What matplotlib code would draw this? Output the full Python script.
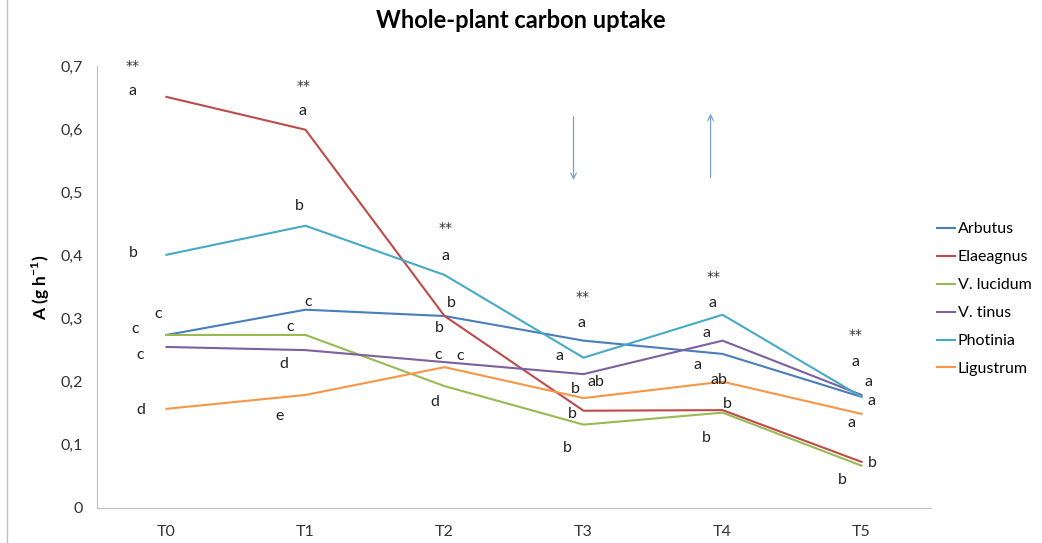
import matplotlib
matplotlib.use('Agg')
import matplotlib.pyplot as plt
from matplotlib.ticker import FuncFormatter
from matplotlib.patches import Rectangle

plt.rcParams['font.family'] = ['Lato', 'DejaVu Sans']

times = ['T0', 'T1', 'T2', 'T3', 'T4', 'T5']

arbutus = [0.274, 0.314, 0.304, 0.265, 0.244, 0.176]
elaeagnus = [0.651, 0.599, 0.304, 0.154, 0.155, 0.073]
v_lucidum = [0.274, 0.274, 0.193, 0.132, 0.151, 0.067]
v_tinus = [0.255, 0.250, 0.231, 0.212, 0.265, 0.179]
photinia = [0.401, 0.447, 0.369, 0.238, 0.306, 0.176]
ligustrum = [0.157, 0.179, 0.223, 0.174, 0.200, 0.149]

names = ['Arbutus', 'Elaeagnus', 'V. lucidum', 'V. tinus', 'Photinia', 'Ligustrum']
colors = ['#4A7EBB', '#BE4B48', '#98B954', '#7D60A0', '#46AAC5', '#F79646']

# significance letters (x, y, text)
letters = [
    (-0.245, 0.700, '**'), (-0.245, 0.661, 'a'), (-0.237, 0.404, 'b'), (-0.058, 0.307, 'c'),
    (-0.223, 0.284, 'c'), (-0.187, 0.242, 'c'), (-0.187, 0.155, 'd'),
    (0.986, 0.669, '**'), (0.978, 0.628, 'a'), (0.957, 0.479, 'b'), (1.022, 0.326, 'c'),
    (0.892, 0.287, 'c'), (0.842, 0.228, 'd'), (0.813, 0.146, 'e'),
    (2.007, 0.444, '**'), (2.007, 0.399, 'a'), (2.050, 0.325, 'b'), (1.964, 0.285, 'b'),
    (1.957, 0.242, 'c'), (2.115, 0.241, 'c'), (1.928, 0.168, 'd'),
    (2.993, 0.334, '**'), (2.986, 0.293, 'a'), (2.827, 0.241, 'a'), (3.086, 0.200, 'ab'),
    (2.942, 0.189, 'b'), (2.921, 0.149, 'b'), (2.885, 0.095, 'b'),
    (3.935, 0.366, '**'), (3.928, 0.325, 'a'), (3.885, 0.277, 'a'), (3.820, 0.227, 'a'),
    (3.971, 0.203, 'ab'), (4.036, 0.165, 'b'), (3.885, 0.111, 'b'),
    (4.957, 0.274, '**'), (4.957, 0.231, 'a'), (5.050, 0.200, 'a'), (5.072, 0.170, 'a'),
    (4.928, 0.135, 'a'), (5.079, 0.071, 'b'), (4.863, 0.044, 'b'),
]

# arrows: (x, y_start, y_end)
arrows = [(2.928, 0.624, 0.515), (3.914, 0.519, 0.629)]

fig = plt.figure(figsize=(10.42, 5.43), dpi=100)
ax = fig.add_axes([0.0931, 0.0645, 0.8004, 0.814])

series = [arbutus, elaeagnus, v_lucidum, v_tinus, photinia, ligustrum]
x = list(range(len(times)))
for vals, name, c in zip(series, names, colors):
    ax.plot(x, vals, color=c, lw=1.5, label=name)

for lx, ly, t in letters:
    if t == '**':
        ax.text(lx, ly, t, ha='center', va='center', fontsize=10,
                family='DejaVu Sans', color='#333333')
    else:
        ax.text(lx, ly, t, ha='center', va='center', fontsize=11.5, color='#222222')

for ax_x, y0, y1 in arrows:
    ax.annotate('', xy=(ax_x, y1), xytext=(ax_x, y0),
                arrowprops=dict(arrowstyle='->', color='#7BA0CD', lw=0.9))

ax.set_xlim(-0.5, 5.5)
ax.set_ylim(0, 0.7)
ax.set_xticks(x)
ax.set_xticklabels(times)
ax.set_yticks([0, 0.1, 0.2, 0.3, 0.4, 0.5, 0.6, 0.7])
ax.yaxis.set_major_formatter(FuncFormatter(lambda v, p: ('%g' % round(v, 2)).replace('.', ',')))
ax.tick_params(length=0, labelsize=11.5, colors='#333333', pad=10)
ax.tick_params(axis='x', pad=12)
for s in ['top', 'right']:
    ax.spines[s].set_visible(False)
for s in ['left', 'bottom']:
    ax.spines[s].set_color('#BFBFBF')

ax.set_ylabel('A (g h$^{\\mathregular{-1}}$)', fontsize=12.5, fontweight='bold', labelpad=6)
fig.text(0.5, 0.963, 'Whole-plant carbon uptake', ha='center', va='center',
         fontsize=17, fontweight='bold')

fig.legend(loc='center left', bbox_to_anchor=(0.896, 0.449), frameon=False,
           fontsize=11.5, handlelength=1.15, handletextpad=0.15, labelspacing=0.86,
           borderaxespad=0, borderpad=0.2)

fig.patches.append(Rectangle((0.007, -0.01), 1.0, 1.02, transform=fig.transFigure,
                             fill=False, edgecolor='#BFBFBF', lw=1))

fig.savefig('out.png', dpi=100)
